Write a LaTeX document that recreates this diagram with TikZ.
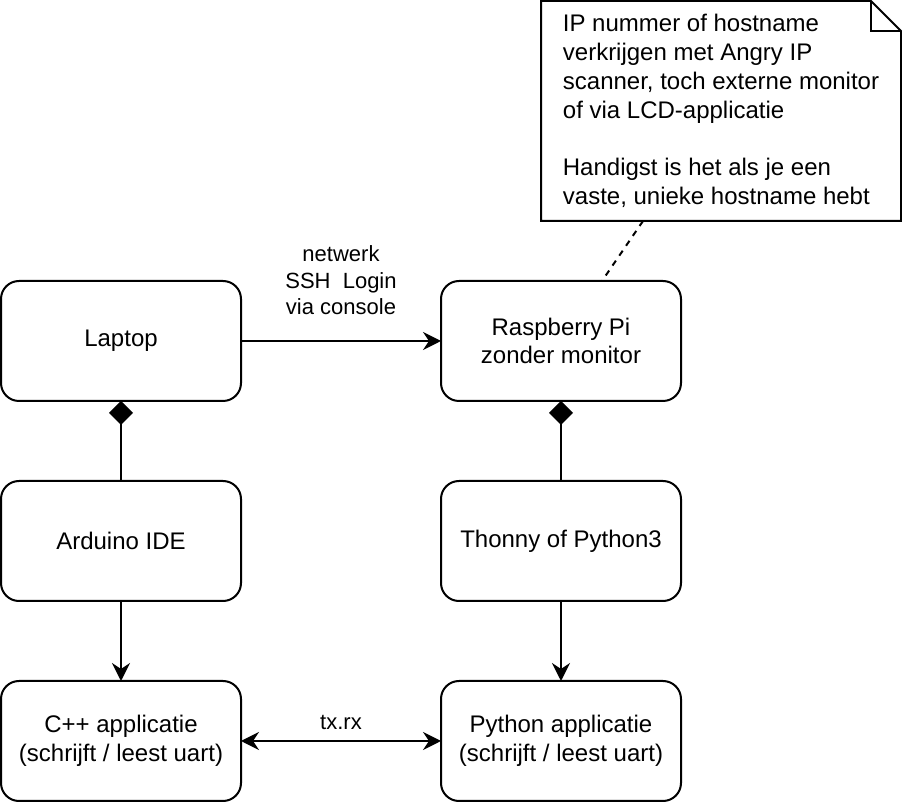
\documentclass[tikz,border=0pt]{standalone}
\usepackage{fontspec}
\setmainfont{Liberation Sans}
\usetikzlibrary{positioning,arrows.meta}
\begin{document}
\begin{tikzpicture}[x=0.5pt,y=-0.5pt]
    \tikzset{
        roundBox/.style={draw, line width=1pt, rounded corners=9pt,
            minimum width=120pt, minimum height=60pt, inner sep=0pt,
            outer sep=0pt, align=center, font=\fontsize{12}{14.4}\selectfont},
        noteText/.style={minimum width=180pt, minimum height=110pt,
            inner sep=0pt, outer sep=0pt, align=left,
            font=\fontsize{12}{14.4}\selectfont},
        edgeLabel/.style={inner sep=0pt, align=center,
            font=\fontsize{11}{13.2}\selectfont},
        arrowLine/.style={line width=1pt, -{Stealth[length=9pt,width=9pt,inset=3pt]}},
        bothLine/.style={line width=1pt,
            {Stealth[length=9pt,width=9pt,inset=3pt]}-{Stealth[length=9pt,width=9pt,inset=3pt]}},
        diamondLine/.style={line width=1pt, {Diamond[length=12pt,width=12pt]}-}
    }
    \useasboundingbox (0,0) rectangle (902,802);

    \node[roundBox] (laptop) at (121,341) {Laptop};
    \node[roundBox, right=100pt of laptop] (raspi) {Raspberry Pi\\zonder monitor};
    \node[roundBox, below=40pt of laptop] (arduino) {Arduino IDE};
    \node[roundBox, below=40pt of raspi] (thonny) {Thonny of Python3};
    \node[roundBox, below=40pt of arduino] (cpp) {C++ applicatie\\(schrijft / leest uart)};
    \node[roundBox, below=40pt of thonny] (python) {Python applicatie\\(schrijft / leest uart)};

    \node[noteText] (note) at (721,111) {IP nummer of hostname\\verkrijgen met Angry IP\\scanner, toch externe monitor\\of via LCD-applicatie\\[14.4pt]Handigst is het als je een\\vaste, unieke hostname hebt};
    \draw[line width=1pt] (note.south west) -- (note.north west)
        -- ([xshift=-15pt]note.north east) -- ([yshift=-15pt]note.north east)
        -- (note.south east) -- cycle;
    \draw[line width=1pt] ([xshift=-15pt]note.north east) |- ([yshift=-15pt]note.north east);

    \draw[arrowLine] (laptop) -- node[edgeLabel, above=12.5pt] {netwerk\\SSH\ \ Login\\via console} (raspi);
    \draw[diamondLine] (laptop) -- (arduino);
    \draw[diamondLine] (raspi) -- (thonny);
    \draw[arrowLine] (arduino) -- (cpp);
    \draw[arrowLine] (thonny) -- (python);
    \draw[bothLine] (cpp) -- node[edgeLabel, above=5pt] {tx.rx} (python);
    \draw[line width=1pt, dash pattern=on 3pt off 3pt] ([xshift=-39pt]note.south) -- ([xshift=20.5pt]raspi.north);
\end{tikzpicture}
\end{document}
